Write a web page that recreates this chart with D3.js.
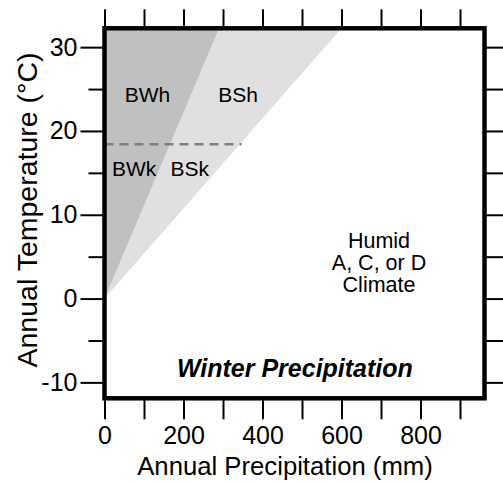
<!DOCTYPE html>
<html>
<head>
<meta charset="utf-8">
<script src="https://d3js.org/d3.v7.min.js"></script>
<style>
  body { margin: 0; background: #fff; }
  text { font-family: "Liberation Sans", Arial, Helvetica, sans-serif; fill: #000; }
</style>
</head>
<body>
<svg id="chart" width="503" height="483"></svg>
<script>
// ---- data ----
const precipTicks = [0, 100, 200, 300, 400, 500, 600, 700, 800, 900];
const precipLabels = [0, 200, 400, 600, 800];
const tempTicks = [-10, -5, 0, 5, 10, 15, 20, 25, 30];
const tempLabels = [-10, 0, 10, 20, 30];

// arid boundaries: [precip mm, temp C]
const desertEdge = [[0, 0], [290, 32.25]];
const steppeEdge = [[0, 0], [600, 32.25]];
const hotColdTemp = 18.4;
const hotColdEnd = 347;

const zoneNames = ["BWh", "BSh", "BWk", "BSk"];
const zonePrecip = [109, 338, 75, 216];
const zoneTemp = [23.45, 23.45, 14.63, 14.63];

const humidLines = ["Humid", "A, C, or D", "Climate"];
const humidPos = [695, 6.0];
const seasonLabel = "Winter Precipitation";
const seasonPos = [482, -9.32];

// ---- layout ----
const svg = d3.select("#chart");
const padL = 104.5, padR = 484.5, padT = 28.3, padB = 398.3;

const x = d3.scaleLinear().domain([0, 962]).range([padL, padR]);
const y = d3.scaleLinear().domain([-11.9, 32.25]).range([padB, padT]);

svg.append("defs").append("clipPath").attr("id", "plotclip")
  .append("rect")
  .attr("x", padL).attr("y", padT)
  .attr("width", padR - padL).attr("height", padB - padT);

const plot = svg.append("g").attr("clip-path", "url(#plotclip)");

// wedge polygons: edge line plus the top-left corner
const wedge = edge => [edge[0], edge[1], [0, edge[1][1]]];
const area = d3.line().x(d => x(d[0])).y(d => y(d[1]));

plot.append("path")
  .attr("d", area(wedge(steppeEdge)) + "Z")
  .attr("fill", "#e0e0e0");
plot.append("path")
  .attr("d", area(wedge(desertEdge)) + "Z")
  .attr("fill", "#c0c0c0");

// h / k dividing line
plot.append("line")
  .attr("x1", x(0)).attr("x2", x(hotColdEnd))
  .attr("y1", y(hotColdTemp)).attr("y2", y(hotColdTemp))
  .attr("stroke", "#808080")
  .attr("stroke-width", 2.5)
  .attr("stroke-dasharray", "9,6");

// zone labels
plot.selectAll("text.zone").data(zoneNames)
  .join("text")
  .attr("class", "zone")
  .attr("x", (d, i) => x(zonePrecip[i]))
  .attr("y", (d, i) => y(zoneTemp[i]))
  .attr("text-anchor", "middle")
  .attr("font-size", 21)
  .text(d => d);

const humid = plot.append("text")
  .attr("x", x(humidPos[0]))
  .attr("y", y(humidPos[1]))
  .attr("text-anchor", "middle")
  .attr("font-size", 21.5);
humid.selectAll("tspan").data(humidLines)
  .join("tspan")
  .attr("x", x(humidPos[0]))
  .attr("dy", (d, i) => i === 0 ? 0 : 21.7)
  .text(d => d);

plot.append("text")
  .attr("x", x(seasonPos[0]))
  .attr("y", y(seasonPos[1]))
  .attr("text-anchor", "middle")
  .attr("font-size", 25)
  .attr("font-weight", "bold")
  .attr("font-style", "italic")
  .text(seasonLabel);

// ---- axes ----
function styleAxis(g) {
  g.select(".domain").remove();
  g.selectAll(".tick line").attr("stroke", "#000").attr("stroke-width", 2);
  g.selectAll(".tick text")
    .attr("font-family", "'Liberation Sans', Arial, Helvetica, sans-serif")
    .attr("font-size", 25).attr("fill", "#000");
}

svg.append("g")
  .attr("transform", `translate(0,${padB})`)
  .call(d3.axisBottom(x).tickValues(precipTicks).tickSize(21).tickPadding(7)
    .tickFormat(d => precipLabels.includes(d) ? d : ""))
  .call(styleAxis);

svg.append("g")
  .attr("transform", `translate(0,${padT})`)
  .call(d3.axisTop(x).tickValues(precipTicks).tickSize(19).tickFormat(""))
  .call(styleAxis);

const yAxis = svg.append("g")
  .attr("transform", `translate(${padL},0)`)
  .call(d3.axisLeft(y).tickValues(tempTicks).tickSize(24).tickPadding(3)
    .tickFormat(d => tempLabels.includes(d) ? d : ""))
  .call(styleAxis);
yAxis.selectAll(".tick line")
  .attr("x2", d => tempLabels.includes(d) ? -24 : -16);

svg.append("g")
  .attr("transform", `translate(${padR},0)`)
  .call(d3.axisRight(y).tickValues(tempTicks).tickSize(20).tickFormat(""))
  .call(styleAxis);

// frame
svg.append("rect")
  .attr("x", padL).attr("y", padT)
  .attr("width", padR - padL).attr("height", padB - padT)
  .attr("fill", "none")
  .attr("stroke", "#000")
  .attr("stroke-width", 4.5);

// axis titles
svg.append("text")
  .attr("x", 285)
  .attr("y", 475)
  .attr("text-anchor", "middle")
  .attr("font-size", 25.7)
  .text("Annual Precipitation (mm)");

svg.append("text")
  .attr("transform", "translate(36.7,210) rotate(-90)")
  .attr("text-anchor", "middle")
  .attr("font-size", 28.5)
  .text("Annual Temperature (°C)");
</script>
</body>
</html>
